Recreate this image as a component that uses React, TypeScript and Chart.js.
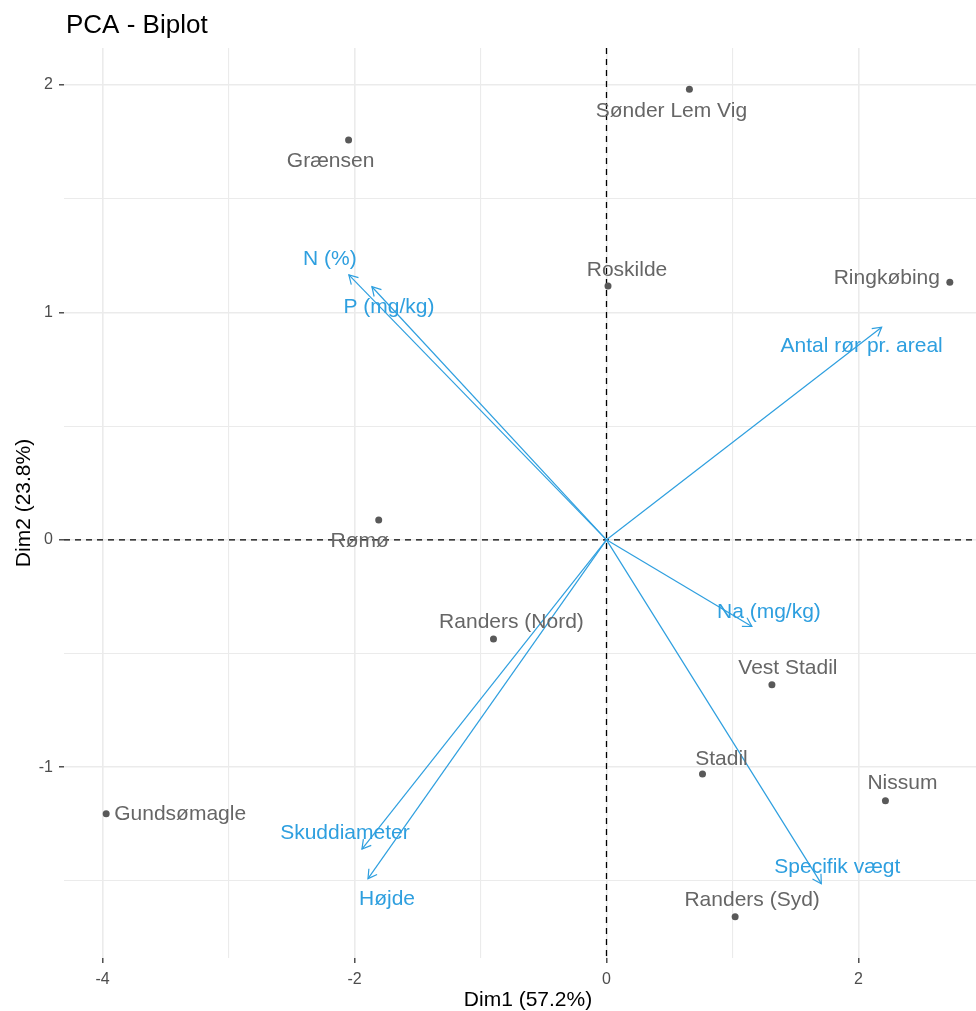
import { useEffect, useRef } from 'react';
import { Chart, registerables } from 'chart.js';

Chart.register(...registerables);

// Individuals (sites) on the first two principal components
const individuals = [
  'Sønder Lem Vig',
  'Grænsen',
  'Roskilde',
  'Ringkøbing',
  'Rømø',
  'Randers (Nord)',
  'Vest Stadil',
  'Stadil',
  'Nissum',
  'Gundsømagle',
  'Randers (Syd)',
];
const dim1Ind = [0.658, -2.047, 0.012, 2.725, -1.808, -0.897, 1.313, 0.762, 2.214, -3.971, 1.021];
const dim2Ind = [1.981, 1.758, 1.116, 1.133, 0.087, -0.436, -0.637, -1.03, -1.147, -1.204, -1.657];

// Variable loadings (arrows)
const variables = [
  'N (%)',
  'P (mg/kg)',
  'Antal rør pr. areal',
  'Na (mg/kg)',
  'Specifik vægt',
  'Skuddiameter',
  'Højde',
];
const dim1Var = [-2.045, -1.862, 2.184, 1.154, 1.705, -1.941, -1.893];
const dim2Var = [1.165, 1.113, 0.935, -0.381, -1.512, -1.36, -1.49];

// Axis ticks
const xMajorTicks = [-4, -2, 0, 2];
const xMinorTicks = [-3, -1, 1];
const yMajorTicks = [-1, 0, 1, 2];
const yMinorTicks = [-1.5, -0.5, 0.5, 1.5];

const chartTitle = 'PCA - Biplot';
const xTitle = 'Dim1 (57.2%)';
const yTitle = 'Dim2 (23.8%)';

// Label placement (pixel offsets from each mark to the label centre), repelled by hand
const indLabelOffsets: [number, number][] = [
  [-18, 22], [-18, 21], [19, -16], [-63, -4], [-19, 21], [18, -17],
  [16, -16], [19, -15], [17, -17], [74, 1], [17, -16],
];
const varLabelOffsets: [number, number][] = [
  [-19, -16], [17, 20], [-20, 19], [17, -14], [16, -16], [-17, -16], [19, 21],
];

const FONT = '"Liberation Sans", Arial, sans-serif';
const BLUE = '#2E9FDF';
const POINT_COLOR = '#595959';
const LABEL_COLOR = '#666666';
const GRID = '#EBEBEB';

const W = 996;
const H = 1011;

function expand(values: number[]): [number, number] {
  const lo = Math.min(...values);
  const hi = Math.max(...values);
  const r = hi - lo;
  return [lo - r * 0.05, hi + r * 0.05];
}

export default function App() {
  const ref = useRef<HTMLCanvasElement>(null);

  useEffect(() => {
    const canvas = ref.current;
    if (!canvas) return;

    const [xMin, xMax] = expand([...dim1Ind, ...dim1Var, 0]);
    const [yMin, yMax] = expand([...dim2Ind, ...dim2Var, 0]);

    const xTicks = [...xMajorTicks, ...xMinorTicks].sort((a, b) => a - b);
    const yTicks = [...yMajorTicks, ...yMinorTicks].sort((a, b) => a - b);

    const pointData = individuals.map((_, i) => ({ x: dim1Ind[i], y: dim2Ind[i] }));
    const arrowSets = variables.map((name, i) => ({
      type: 'line' as const,
      label: name,
      data: [
        { x: 0, y: 0 },
        { x: dim1Var[i], y: dim2Var[i] },
      ],
      borderColor: BLUE,
      borderWidth: 1.2,
      pointRadius: 0,
      showLine: true,
      fill: false,
      tension: 0,
      order: 2,
    }));

    const biplotPlugin = {
      id: 'biplotDecor',
      beforeDatasetsDraw(chart: any) {
        const { ctx, chartArea, scales } = chart;
        const x0 = scales.x.getPixelForValue(0);
        const y0 = scales.y.getPixelForValue(0);
        ctx.save();
        ctx.beginPath();
        ctx.rect(chartArea.left, chartArea.top, chartArea.right - chartArea.left, chartArea.bottom - chartArea.top);
        ctx.clip();
        ctx.strokeStyle = '#000';
        ctx.lineWidth = 1.3;
        ctx.setLineDash([6, 5]);
        ctx.beginPath();
        ctx.moveTo(chartArea.left, y0);
        ctx.lineTo(chartArea.right, y0);
        ctx.moveTo(x0, chartArea.top);
        ctx.lineTo(x0, chartArea.bottom);
        ctx.stroke();
        ctx.restore();
      },
      afterDatasetsDraw(chart: any) {
        const { ctx, scales } = chart;
        const sx = scales.x;
        const sy = scales.y;
        const ox = sx.getPixelForValue(0);
        const oy = sy.getPixelForValue(0);
        ctx.save();

        // open arrow heads
        ctx.strokeStyle = BLUE;
        ctx.lineWidth = 1.2;
        ctx.setLineDash([]);
        const headLen = 10;
        const headAng = Math.PI / 6;
        variables.forEach((_, i) => {
          const tx = sx.getPixelForValue(dim1Var[i]);
          const ty = sy.getPixelForValue(dim2Var[i]);
          const a = Math.atan2(ty - oy, tx - ox);
          ctx.beginPath();
          ctx.moveTo(tx - headLen * Math.cos(a - headAng), ty - headLen * Math.sin(a - headAng));
          ctx.lineTo(tx, ty);
          ctx.lineTo(tx - headLen * Math.cos(a + headAng), ty - headLen * Math.sin(a + headAng));
          ctx.stroke();
        });

        ctx.textAlign = 'center';
        ctx.textBaseline = 'middle';
        ctx.font = `21px ${FONT}`;

        // individual labels
        ctx.fillStyle = LABEL_COLOR;
        individuals.forEach((name, i) => {
          const px = sx.getPixelForValue(dim1Ind[i]);
          const py = sy.getPixelForValue(dim2Ind[i]);
          const [dx, dy] = indLabelOffsets[i];
          ctx.fillText(name, px + dx, py + dy);
        });

        // variable labels
        ctx.fillStyle = BLUE;
        variables.forEach((name, i) => {
          const px = sx.getPixelForValue(dim1Var[i]);
          const py = sy.getPixelForValue(dim2Var[i]);
          const [dx, dy] = varLabelOffsets[i];
          ctx.fillText(name, px + dx, py + dy);
        });
        ctx.restore();
      },
      afterDraw(chart: any) {
        const { ctx, chartArea } = chart;
        ctx.save();
        ctx.fillStyle = '#000';
        ctx.font = `26px ${FONT}`;
        ctx.textAlign = 'left';
        ctx.textBaseline = 'alphabetic';
        ctx.fillText(chartTitle, chartArea.left + 2, 33);

        ctx.font = `21px ${FONT}`;
        ctx.textAlign = 'center';
        ctx.textBaseline = 'middle';
        ctx.fillText(xTitle, (chartArea.left + chartArea.right) / 2, 1000);

        ctx.translate(24, (chartArea.top + chartArea.bottom) / 2);
        ctx.rotate(-Math.PI / 2);
        ctx.fillText(yTitle, 0, 0);
        ctx.restore();
      },
    };

    const chart = new Chart(canvas, {
      type: 'scatter',
      data: {
        datasets: [
          {
            type: 'scatter',
            label: 'Individer',
            data: pointData,
            backgroundColor: POINT_COLOR,
            borderColor: POINT_COLOR,
            pointRadius: 3.5,
            borderWidth: 0,
            order: 1,
          } as any,
          ...(arrowSets as any[]),
        ],
      },
      options: {
        animation: false,
        responsive: false,
        maintainAspectRatio: false,
        devicePixelRatio: 1,
        layout: { padding: { top: 48, left: 0, right: 0, bottom: 13 } },
        plugins: {
          legend: { display: false },
          title: { display: false },
          tooltip: { enabled: false },
        },
        scales: {
          x: {
            type: 'linear',
            min: xMin,
            max: xMax,
            afterBuildTicks: (scale: any) => {
              scale.ticks = xTicks.map((v) => ({ value: v }));
            },
            afterFit: (scale: any) => {
              scale.height = 40;
            },
            border: { display: false },
            grid: {
              color: GRID,
              lineWidth: (c: any) => (xMajorTicks.includes(c.tick?.value) ? 1.6 : 1.1),
              tickColor: (c: any) => (xMajorTicks.includes(c.tick?.value) ? '#333333' : 'rgba(0,0,0,0)'),
              tickLength: 5,
              tickWidth: 1.3,
            },
            ticks: {
              autoSkip: false,
              maxRotation: 0,
              padding: 7,
              color: '#4D4D4D',
              font: { family: FONT, size: 16 },
              callback: (v: any) => (xMajorTicks.includes(Number(v)) ? String(v) : ''),
            },
          },
          y: {
            type: 'linear',
            min: yMin,
            max: yMax,
            afterBuildTicks: (scale: any) => {
              scale.ticks = yTicks.map((v) => ({ value: v }));
            },
            afterFit: (scale: any) => {
              scale.width = 64;
            },
            border: { display: false },
            grid: {
              color: GRID,
              lineWidth: (c: any) => (yMajorTicks.includes(c.tick?.value) ? 1.6 : 1.1),
              tickColor: (c: any) => (yMajorTicks.includes(c.tick?.value) ? '#333333' : 'rgba(0,0,0,0)'),
              tickLength: 5,
              tickWidth: 1.3,
            },
            ticks: {
              autoSkip: false,
              padding: 6,
              color: '#4D4D4D',
              font: { family: FONT, size: 16 },
              callback: (v: any) => (yMajorTicks.includes(Number(v)) ? String(v) : ''),
            },
          },
        },
      },
      plugins: [biplotPlugin],
    } as any);

    return () => chart.destroy();
  }, []);

  return (
    <div
      style={{
        position: 'fixed',
        left: 0,
        top: 0,
        width: '976px',
        height: `${H}px`,
        overflow: 'hidden',
        background: '#ffffff',
      }}
    >
      <canvas ref={ref} width={W} height={H} style={{ display: 'block', width: `${W}px`, height: `${H}px` }} />
    </div>
  );
}
